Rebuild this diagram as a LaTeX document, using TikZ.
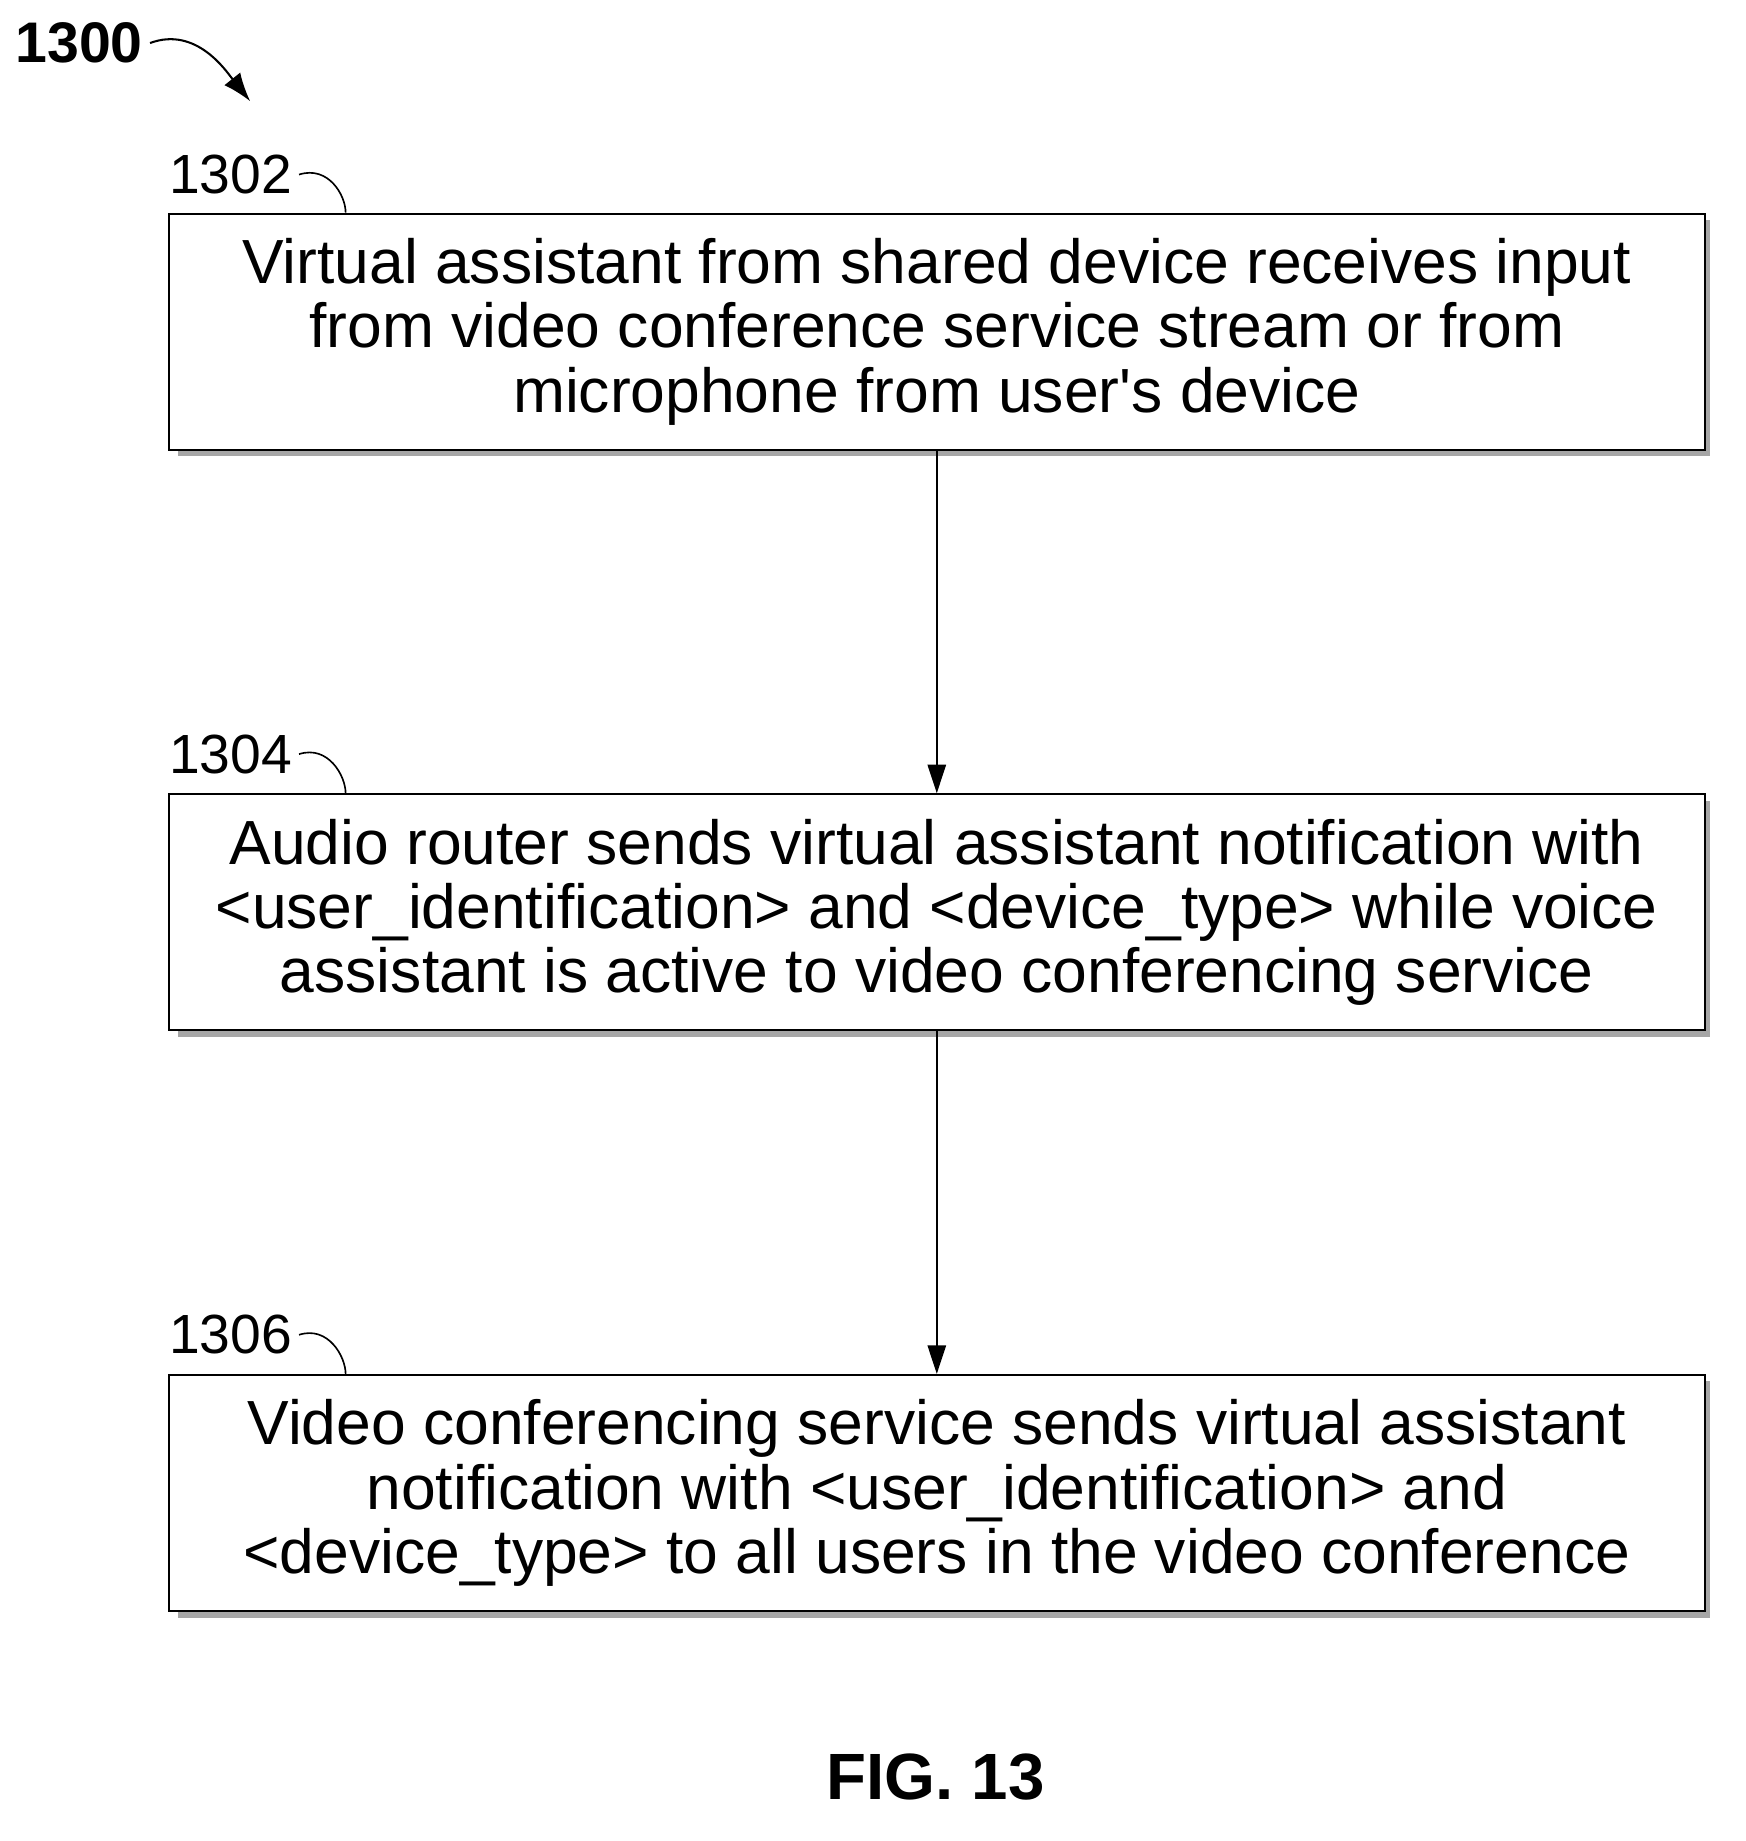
\documentclass[tikz,border=0pt]{standalone}
\usepackage{fontspec}
\setmainfont[Ligatures=NoCommon]{Liberation Sans}
\usetikzlibrary{arrows.meta}
\begin{document}
\begin{tikzpicture}[x=0.02cm,y=-0.02cm,
  box/.style={draw,line width=1pt,fill=white,minimum width=26.4cm,minimum height=4.06cm,align=center,font=\fontsize{30.5}{31.5}\selectfont},
  lab/.style={font=\fontsize{27}{30}\selectfont},
  arr/.style={-{Triangle[length=14pt,width=9pt]},line width=0.8pt}]
\useasboundingbox (0,0) rectangle (1500,1582);
\foreach \y in {285,784,1283}{\fill[gray!70] (153,\y-96) rectangle (1469,\y+107);}
\node[box] (b1) at (805,285) {Virtual assistant from shared device receives input\\from video conference service stream or from\\microphone from user\textquotesingle s device};
\node[box] (b2) at (805,784) {Audio router sends virtual assistant notification with\\<user\_identification> and <device\_type> while voice\\assistant is active to video conferencing service};
\node[box] (b3) at (805,1283) {Video conferencing service sends virtual assistant\\notification with <user\_identification> and\\<device\_type> to all users in the video conference};
\draw[arr] (b1) -- (b2);
\draw[arr] (b2) -- (b3);
\node[lab] (l1) at (198,150) {1302};
\node[lab] (l2) at (198,648) {1304};
\node[lab] (l3) at (198,1147) {1306};
\foreach \l/\b in {l1/b1,l2/b2,l3/b3}{\draw[line width=0.8pt] (\l.east) .. controls +(25,-8) and +(0,-15) .. (\b.north west -| 297,0);}
\node[font=\bfseries\fontsize{28}{30}\selectfont] (t) at (68,37) {1300};
\coordinate (te) at (215,87);
\draw[line width=1pt,-{Latex[length=14pt,width=10pt]}] (t.east) .. controls +(40,-15) and +(-20,-25) .. (te);
\node[font=\bfseries\fontsize{32}{36}\selectfont] (fig) at (804,1527) {FIG. 13};
\end{tikzpicture}
\end{document}
